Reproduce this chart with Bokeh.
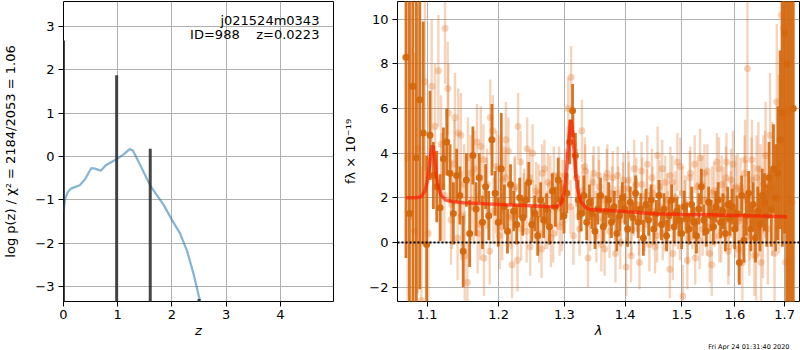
import numpy as np
from bokeh.plotting import figure
from bokeh.layouts import row
from bokeh.models import (Range1d, FixedTicker, Label, Title, ColumnDataSource,
                          CustomJSTickFormatter)
from bokeh.embed import file_html
from bokeh.resources import INLINE

# ---------------- left panel: log p(z) ----------------
pz_z = [0.00, 0.03, 0.08, 0.14, 0.22, 0.30, 0.40, 0.51, 0.58, 0.69, 0.78, 0.87,
        0.98, 1.11, 1.22, 1.28, 1.42, 1.60, 1.85, 2.00, 2.15, 2.28, 2.40, 2.52, 2.60]
pz_logp = [-1.27, -0.97, -0.82, -0.74, -0.70, -0.66, -0.52, -0.27, -0.28, -0.33, -0.20, -0.14,
           -0.06, 0.05, 0.17, 0.14, -0.21, -0.67, -1.12, -1.46, -1.77, -2.18, -2.71, -3.34, -3.90]
peak_z = [0.0, 0.98, 1.60, 2.50]
peak_top = [2.67, 1.87, 0.18, -3.28]
title_line1 = "j021524m0343"
title_line2 = "ID=988\u00a0\u00a0\u00a0\u00a0z=0.0223"
left_yticks = [-3, -2, -1, 0, 1, 2, 3]
left_xticks = [0, 1, 2, 3, 4]

# ---------------- right panel: spectrum ----------------
dark_lam0, light_lam0, light2_lam0, lam_step = 1.0720, 1.0742, 1.1188, 0.004549
dark_flux = [8.3, 1.3, 7.0, 3.8, 6.4, 4.9, -0.1, 4.8, 3.0, 2.5,
             1.55, 3.75, 4.5, 3.1, 1.3, 3.0, 2.1, -0.4, 2.8, 0.4,
             3.9, 1.5, 2.9, 0.9, 2.5, 1.2, 4.6, 2.2, 0.9, 3.3,
             1.6, 0.5, 2.6, 1.4, 0.8, 2.0, 1.1, 1.9, 2.7, 0.8,
             1.3, 0.3, 1.9, 1.0, 1.5, 0.7, 2.3, 1.6, 2.8, 1.9,
             1.2, 2.2, 4.5, 5.9, 3.9, 1.9, 1.3, 2.1, 0.9, 1.8,
             1.3, 0.5, 1.5, 2.1, 0.7, 1.4, 1.9, 0.9, 1.6, 0.4,
             1.2, 2.0, 1.5, 0.6, 1.8, 1.1, 2.2, 0.9, 1.5, 0.2,
             1.7, 1.0, 1.9, 0.6, 1.3, 2.1, 0.8, 1.5, 0.3, 1.2,
             1.9, 0.7, 1.4, 1.0, 0.4, 1.6, 1.1, 0.6, 1.7, 0.9,
             0.3, 1.5, 2.5, 1.0, 0.5, 1.8, 1.2, 0.7, 1.6, 1.9,
             0.9, 1.4, 0.4, 1.7, 1.1, 1.6, 0.6, 1.3, -0.9, 2.1,
             0.1, 1.2, 2.2, 0.6, 1.7, 0.2, 1.4, 0.8, 2.1, 1.8,
             1.2, 2.9, 1.5, 3.3, 2.0, 3.1, 4.6, 5.8, 9.4, 8.0,
             12.0, -3.0, 6.0]
dark_err = [9.0, 12.0, 10.0, 8.0, 8.5, 5.0, 4.0, 2.0, 1.5, 1.6,
            1.5, 1.4, 1.5, 1.3, 1.4, 1.2, 1.3, 1.6, 1.2, 1.5,
            1.3, 1.2, 1.1, 1.2, 1.0, 1.1, 1.6, 1.0, 1.1, 2.5,
            1.0, 1.0, 0.9, 0.9, 0.9, 0.9, 0.8, 0.8, 0.9, 0.8,
            0.8, 0.9, 0.8, 0.8, 0.7, 0.8, 0.8, 0.9, 1.0, 0.9,
            0.8, 0.9, 1.0, 1.2, 1.0, 0.9, 0.8, 0.9, 0.8, 0.8,
            0.7, 0.8, 0.7, 0.8, 0.7, 0.7, 0.8, 0.7, 0.7, 0.8,
            0.7, 0.7, 0.7, 0.8, 0.7, 0.7, 0.8, 0.7, 0.7, 0.8,
            0.7, 0.7, 0.7, 0.7, 0.6, 0.7, 0.7, 0.7, 0.7, 0.7,
            0.7, 0.7, 0.6, 0.7, 0.7, 0.7, 0.7, 0.7, 0.8, 0.7,
            0.8, 0.7, 0.8, 0.7, 0.7, 0.7, 0.7, 0.8, 0.7, 0.8,
            0.7, 0.8, 0.8, 0.8, 0.8, 0.8, 0.9, 0.8, 1.0, 0.9,
            1.0, 0.9, 1.0, 1.0, 1.0, 1.1, 1.1, 1.2, 1.2, 1.3,
            1.4, 1.6, 1.7, 2.0, 2.4, 3.0, 4.0, 6.0, 9.0, 12.0,
            15.0, 15.0, 20.0]
light_flux = [3.8, 7.0, 0.5, 4.2, -2.6, 7.2, 0.4, 7.0, 5.2, 7.7,
              2.5, 9.6, 5.8, 1.7, 5.6, 4.9, 1.2, -0.6, 3.8, 1.9,
              3.3, 0.4, 4.3, -0.7, 2.6, 5.6, 1.4, 3.4, 0.3, 2.8,
              4.6, 1.2, -1.0, 2.5, 5.2, 0.6, 2.0, 4.2, -0.2, 1.5,
              2.3, 0.4, 3.1, 0.9, 2.7, 0.2, 3.0, 1.5, 0.7, 2.4,
              3.0, 6.0, 7.4, 4.4, 2.9, 0.6, 2.3, 3.2, -0.7, 1.8,
              3.1, 0.3, 2.5, 1.1, -0.3, 3.1, 1.4, 2.9, -0.5, 2.2,
              1.0, 2.8, -1.1, 2.4, 0.6, 3.3, 1.7, -0.9, 2.6, 0.8,
              3.5, 1.3, 2.2, -0.2, 3.9, 1.6, 0.4, 2.7, 1.1, 3.0,
              -0.5, 2.0, 0.9, 3.4, -2.4, 1.8, 0.2, 3.1, 1.3, -0.7,
              2.5, 3.8, 0.6, 1.9, 3.2, -0.5, 2.2, 1.0, 3.6, 0.3,
              2.6, 1.5, 3.6, -0.2, 2.8, 1.2, 2.5, -0.3, 2.3, 1.0,
              3.7, 7.8, 0.9, 3.7, -0.6, 2.9, 1.4, -0.9, 2.6, 3.9,
              0.6, 4.8, 2.4, -0.5, 6.3, 3.5, 10.2, 9.6, -0.9, 5.8,
              2.0, 1.8]
light_err = [7.0, 6.0, 8.0, 6.5, 6.0, 4.0, 3.5, 3.0, 2.8, 2.5,
             2.4, 2.5, 2.2, 2.0, 2.0, 2.0, 2.0, 2.0, 1.8, 1.8,
             1.7, 1.8, 1.8, 1.7, 1.6, 1.7, 1.5, 1.6, 1.5, 1.5,
             1.7, 1.4, 1.5, 1.4, 1.5, 1.4, 1.3, 1.4, 1.3, 1.3,
             1.3, 1.3, 1.3, 1.2, 1.3, 1.3, 1.3, 1.2, 1.3, 1.3,
             1.2, 1.4, 1.4, 1.3, 1.3, 1.2, 1.2, 1.2, 1.3, 1.2,
             1.2, 1.2, 1.2, 1.2, 1.2, 1.3, 1.2, 1.2, 1.3, 1.2,
             1.2, 1.2, 1.3, 1.2, 1.2, 1.3, 1.2, 1.2, 1.2, 1.2,
             1.3, 1.2, 1.2, 1.2, 1.3, 1.2, 1.2, 1.2, 1.2, 1.3,
             1.2, 1.2, 1.2, 1.3, 1.4, 1.2, 1.2, 1.2, 1.2, 1.2,
             1.2, 1.3, 1.2, 1.2, 1.2, 1.3, 1.2, 1.2, 1.3, 1.2,
             1.3, 1.3, 1.3, 1.3, 1.4, 1.4, 1.4, 1.5, 1.5, 1.6,
             1.8, 4.0, 1.7, 1.8, 1.8, 1.9, 2.0, 2.0, 2.2, 2.4,
             2.5, 2.8, 3.0, 3.2, 3.5, 4.0, 5.0, 6.0, 7.0, 8.0,
             10.0, 9.0]
light2_flux = [4.4, 2.1, 6.9, 1.0, 3.5, 0.2, 4.8, 2.6, -1.8, 3.1,
               1.6, 4.5, 0.8, 3.7, 2.2, -0.4, 5.0, 1.9, 3.3, 0.7,
               2.9, 4.1, 1.1, 2.4, -0.8, 3.6, 1.8, 0.5, 2.9, 4.0,
               1.3, 2.2, -0.3, 3.3, 1.0, 2.6, 0.4, 1.9, 3.0, 0.9,
               2.4, 3.9, 1.6, 0.3, 2.9, 1.2, 5.0, 3.4, 2.0, 0.8,
               2.7, 1.1, 3.0, -0.1, 1.9, 2.9, 0.5, 2.2, 1.3, 3.0,
               0.0, 2.4, 1.6, 2.8, -0.6, 1.5, 2.6, 0.6, 3.2, 1.1,
               2.1, -0.1, 2.9, 1.4, 0.3, 2.5, 3.3, 0.8, 1.9, -1.2,
               2.7, 1.0, 3.6, 0.4, 2.2, 1.6, -0.8, 2.9, 0.9, 3.5,
               1.4, 0.1, 2.6, 3.1, 0.7, 1.8, -1.0, 2.3, 1.2, 3.3,
               0.5, 2.0, 2.9, -0.4, 1.7, 3.5, 0.8, 2.4, 1.1, -0.9,
               3.1, 1.9, 0.3, 2.8, 1.5, -0.6, 3.3, 2.2, 0.7, 2.6]
light2_err = [2.2, 2.1, 2.1, 2.0, 2.0, 1.9, 1.9, 1.8, 1.8, 1.7,
              1.7, 1.7, 1.6, 1.6, 1.6, 1.5, 1.6, 1.5, 1.5, 1.5,
              1.4, 1.5, 1.4, 1.4, 1.4, 1.4, 1.3, 1.4, 1.3, 1.3,
              1.3, 1.3, 1.3, 1.3, 1.3, 1.3, 1.3, 1.2, 1.3, 1.3,
              1.3, 1.3, 1.2, 1.3, 1.3, 1.2, 1.4, 1.3, 1.3, 1.2,
              1.2, 1.2, 1.3, 1.2, 1.2, 1.3, 1.2, 1.2, 1.2, 1.3,
              1.2, 1.2, 1.2, 1.3, 1.2, 1.2, 1.2, 1.2, 1.3, 1.2,
              1.2, 1.2, 1.3, 1.2, 1.2, 1.2, 1.3, 1.2, 1.2, 1.3,
              1.2, 1.2, 1.3, 1.2, 1.2, 1.2, 1.3, 1.2, 1.2, 1.3,
              1.3, 1.3, 1.3, 1.3, 1.3, 1.3, 1.4, 1.3, 1.3, 1.4,
              1.4, 1.4, 1.4, 1.5, 1.5, 1.5, 1.5, 1.6, 1.6, 1.7,
              1.7, 1.8, 1.8, 1.9, 2.0, 2.0, 2.1, 2.2, 2.3, 2.4]
model_lam = [1.072, 1.085, 1.092, 1.097, 1.100, 1.103, 1.1055, 1.1075, 1.1095, 1.112,
             1.115, 1.119, 1.125, 1.135, 1.150, 1.180, 1.210, 1.240, 1.270, 1.288,
             1.295, 1.300, 1.304, 1.307, 1.3105, 1.3135, 1.317, 1.321, 1.326, 1.333,
             1.340, 1.360, 1.400, 1.450, 1.500, 1.550, 1.600, 1.650, 1.705]
model_flux = [2.0, 2.0, 2.05, 2.3, 2.7, 3.4, 4.1, 4.35, 4.0, 3.1,
              2.45, 2.1, 1.9, 1.82, 1.78, 1.73, 1.69, 1.65, 1.61, 1.60,
              1.75, 2.3, 3.4, 4.6, 5.5, 4.9, 3.5, 2.4, 1.85, 1.6,
              1.48, 1.45, 1.38, 1.28, 1.25, 1.24, 1.21, 1.18, 1.15]
right_xticks = [1.1, 1.2, 1.3, 1.4, 1.5, 1.6, 1.7]
right_yticks = [-2, 0, 2, 4, 6, 8, 10]
timestamp = "Fri Apr 24 01:31:40 2020"

FONT = "DejaVu Sans"
minus_fmt = CustomJSTickFormatter(code="return (tick < 0 ? '\u2212' : '') + Math.abs(tick).toString();")


def style(p, xticks, yticks, xfmt=None):
    p.outline_line_color = "black"
    p.outline_line_width = 1
    p.outline_line_alpha = 1
    p.background_fill_color = "white"
    p.border_fill_color = "white"
    p.xaxis.ticker = FixedTicker(ticks=xticks)
    p.yaxis.ticker = FixedTicker(ticks=yticks)
    p.xgrid.ticker = FixedTicker(ticks=xticks)
    p.ygrid.ticker = FixedTicker(ticks=yticks)
    p.xaxis.formatter = xfmt if xfmt is not None else minus_fmt
    p.yaxis.formatter = minus_fmt
    for ax in p.axis:
        ax.axis_line_color = None
        ax.major_tick_line_color = "black"
        ax.major_tick_out = 5
        ax.major_tick_in = 0
        ax.minor_tick_line_color = None
        ax.major_label_text_font = FONT
        ax.major_label_text_font_size = "13px"
        ax.major_label_text_color = "black"
        ax.major_label_standoff = 4
        ax.axis_label_text_font = FONT
        ax.axis_label_text_font_size = "13px"
        ax.axis_label_text_color = "black"
        ax.axis_label_standoff = 4
    p.xaxis.axis_label_text_font_style = "italic"
    p.xaxis.major_label_standoff = 3
    p.xaxis.axis_label_standoff = 1
    p.yaxis.axis_label_text_font_style = "normal"
    p.grid.grid_line_color = "#b0b0b0"
    p.grid.grid_line_width = 1


# ---------- left figure ----------
p1 = figure(width=340, height=350, x_range=Range1d(0, 4.98), y_range=Range1d(-3.34, 3.57),
            output_backend="svg", toolbar_location=None,
            min_border_left=62, min_border_right=7, min_border_top=1, min_border_bottom=49)
style(p1, left_xticks, left_yticks)
p1.xaxis.axis_label = "z"
p1.yaxis.axis_label = "log p(z) / \u03c7\u00b2 = 2184/2053 = 1.06"
p1.yaxis.axis_label_standoff = 14

p1.line(pz_z, pz_logp, line_color="#1f77b4", line_alpha=0.55, line_width=2.2)
p1.segment(x0=peak_z, y0=[-5.0] * len(peak_z), x1=peak_z, y1=peak_top,
           line_color="#333333", line_alpha=0.9, line_width=3)
p1.add_layout(Label(x=4.72, y=3.13, text=title_line1, text_align="right", text_baseline="middle",
                    text_font=FONT, text_font_size="13px", text_color="black"))
p1.add_layout(Label(x=4.72, y=2.80, text=title_line2, text_align="right", text_baseline="middle",
                    text_font=FONT, text_font_size="13px", text_color="black"))

# ---------- right figure ----------
def errsource(lam0, flux, err):
    f = np.array(flux)
    e = np.array(err)
    lam = lam0 + lam_step * np.arange(len(f))
    return ColumnDataSource(dict(x=lam, y=f, lo=f - e, hi=f + e))


dsrc = errsource(dark_lam0, dark_flux, dark_err)
lsrc = errsource(light_lam0, light_flux, light_err)
l2src = errsource(light2_lam0, light2_flux, light2_err)

p2 = figure(width=460, height=350, x_axis_type="log",
            x_range=Range1d(1.061, 1.731), y_range=Range1d(-2.65, 10.8),
            output_backend="svg", toolbar_location=None,
            min_border_left=51, min_border_right=1, min_border_top=1, min_border_bottom=49)
xfmt = CustomJSTickFormatter(code="return tick.toFixed(1);")
style(p2, right_xticks, right_yticks, xfmt)
p2.xaxis.axis_label = "\u03bb"
p2.yaxis.axis_label = "f\u03bb \u00d7 10\u207b\u00b9\u2079"
p2.yaxis.axis_label_standoff = 8

ORANGE = "#e07020"
DARK = "#d4670c"
for src in (lsrc, l2src):
    p2.segment(x0="x", y0="lo", x1="x", y1="hi", source=src, line_color=ORANGE, line_alpha=0.3, line_width=2.4)
    p2.scatter(x="x", y="y", source=src, size=7, fill_color=ORANGE, fill_alpha=0.3, line_color=None)
p2.segment(x0="x", y0="lo", x1="x", y1="hi", source=dsrc, line_color=DARK, line_alpha=0.9, line_width=2.8)
p2.scatter(x="x", y="y", source=dsrc, size=7, fill_color=DARK, fill_alpha=0.95, line_color=None)
p2.line(model_lam, model_flux, line_color="#ff1a00", line_alpha=0.65, line_width=3.5)
p2.line([1.061, 1.731], [0, 0], line_color="black", line_width=2, line_dash="2 2")

p2.add_layout(Title(text=timestamp, align="right", offset=10, standoff=0,
                    text_font=FONT, text_font_size="6.5px", text_font_style="normal",
                    text_color="black"), "below")

layout = row(p1, p2)
open("out.html", "w").write(file_html(layout, INLINE))
